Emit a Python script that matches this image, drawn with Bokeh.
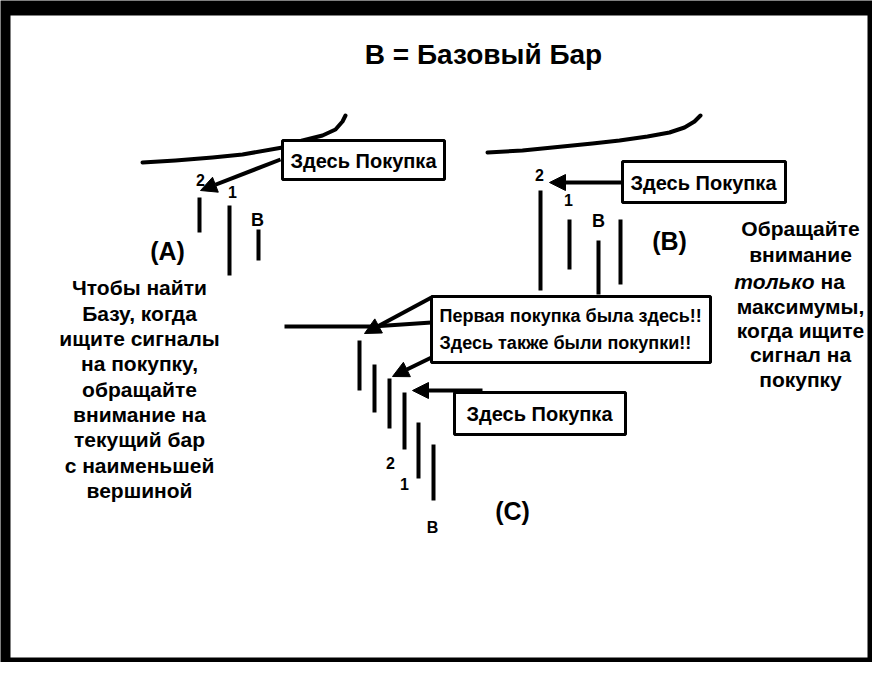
from bokeh.plotting import figure
from bokeh.models import Range1d, ColumnDataSource, Arrow, NormalHead
from bokeh.core.properties import value
from bokeh.embed import file_html
from bokeh.resources import INLINE

FONT = value("Liberation Sans")

# ---------------- data (diagram coordinates, image-pixel units) ----------------
title_text = "B = Базовый Бар"

# panel A
a_curve_x = [150, 183, 220, 250, 290, 310, 330, 343, 350, 353]
a_curve_y = [170, 168, 165, 162, 155, 148, 143, 137, 129, 123]
a_bar_x = [207, 237, 266]
a_bar_top = [205, 213, 237]
a_bar_bottom = [240, 283, 268]

# panel B
b_curve_x = [495, 530, 560, 600, 627, 655, 677, 692, 702, 708]
b_curve_y = [160, 158, 155, 151, 148, 144, 140, 135, 129, 123]
b_bar_x = [548, 577, 606, 628]
b_bar_top = [198, 227, 248, 227]
b_bar_bottom = [298, 277, 302, 292]

# panel C
c_line_x = [292, 380, 439]
c_line_y = [334, 334, 330]
c_bar_x = [367, 382, 397, 412, 426, 441]
c_bar_top = [348, 372, 386, 400, 430, 452]
c_bar_bottom = [398, 420, 436, 457, 486, 508]

# callout boxes
box_left = [290, 630, 439, 462]
box_right = [452, 793, 718, 633]
box_top = [148, 169, 304, 400]
box_bottom = [187, 210, 370, 442]

# arrows
arr_x0 = [288, 630, 439, 439, 490]
arr_y0 = [167, 190, 305, 365, 398]
arr_x1 = [208, 557, 372, 400, 420]
arr_y1 = [198, 190, 341, 384, 398]

# box texts
box_text = ["Здесь Покупка", "Здесь Покупка", "Первая покупка была здесь!!",
            "Здесь также были покупки!!", "Здесь Покупка"]
box_text_x = [371, 711, 447, 447, 547]
box_text_y = [168, 190, 323, 350, 421]
box_text_size = ["20px", "20px", "18px", "18px", "20px"]
box_text_align = ["center", "center", "left", "left", "center"]

# small labels (bar numbers / B)
lab_text = ["2", "1", "B", "2", "1", "B", "2", "1", "B"]
lab_x = [208, 240, 265, 547, 576, 606, 398, 412, 440]
lab_y = [187, 199, 227, 182, 207, 228, 470, 491, 535]
lab_size = ["16px", "16px", "18px", "16px", "16px", "18px", "16px", "16px", "16px"]

# panel names
pan_text = ["(A)", "(B)", "(C)"]
pan_x = [175, 677, 520]
pan_y = [258, 248, 518]

# left note
left_lines = ["Чтобы найти", "Базу, когда", "ищите сигналы", "на покупку,",
              "обращайте", "внимание на", "текущий бар", "с наименьшей", "вершиной"]
left_y = [295, 321, 346, 371, 397, 422, 447, 473, 498]
left_x = 147

# right note ("только" is italic, handled separately)
right_lines = ["Обращайте", "внимание", "максимумы,", "когда ищите", "сигнал на", "покупку"]
right_y = [236, 262, 314, 338, 362, 387]
right_x = 808
italic_y = 289

# ---------------- figure ----------------
W, H = 872, 662
p = figure(width=W, height=H, x_range=Range1d(8, 880), y_range=Range1d(670, 8),
           output_backend="svg", toolbar_location=None, x_axis_type=None, y_axis_type=None,
           min_border=0, background_fill_color="black", border_fill_color="black",
           outline_line_color=None)
p.grid.visible = False

# white page inside black frame
p.quad(left=[18], right=[875], top=[23], bottom=[665], fill_color="white", line_color=None)

# title
p.text(x=[491], y=[62], text=[title_text], text_font=FONT, text_font_style="bold",
       text_font_size="28px", text_align="center", text_baseline="middle", text_color="black")

# curves
p.line(a_curve_x, a_curve_y, line_width=4, line_color="black", line_cap="round", line_join="round")
p.line(b_curve_x, b_curve_y, line_width=4, line_color="black", line_cap="round", line_join="round")
p.line(c_line_x, c_line_y, line_width=4, line_color="black")

# bars
for bx, bt, bb in [(a_bar_x, a_bar_top, a_bar_bottom),
                   (b_bar_x, b_bar_top, b_bar_bottom),
                   (c_bar_x, c_bar_top, c_bar_bottom)]:
    p.segment(x0=bx, y0=bt, x1=bx, y1=bb, line_width=4, line_color="black")

# arrows
asrc = ColumnDataSource(dict(x0=arr_x0, y0=arr_y0, x1=arr_x1, y1=arr_y1))
p.add_layout(Arrow(source=asrc, x_start="x0", y_start="y0", x_end="x1", y_end="y1",
                   line_width=4, line_color="black",
                   end=NormalHead(size=16, fill_color="black", line_color="black", line_width=1)))

# boxes
p.quad(left=box_left, right=box_right, top=box_top, bottom=box_bottom,
       fill_color="white", line_color="black", line_width=3)

bsrc = ColumnDataSource(dict(x=box_text_x, y=box_text_y, t=box_text, s=box_text_size, a=box_text_align))
p.text(x="x", y="y", text="t", text_font_size="s", text_align="a", source=bsrc,
       text_font=FONT, text_font_style="bold", text_baseline="middle", text_color="black")

lsrc = ColumnDataSource(dict(x=lab_x, y=lab_y, t=lab_text, s=lab_size))
p.text(x="x", y="y", text="t", text_font_size="s", source=lsrc, text_font=FONT,
       text_font_style="bold", text_align="center", text_baseline="middle", text_color="black")

p.text(x=pan_x, y=pan_y, text=pan_text, text_font=FONT, text_font_style="bold",
       text_font_size="25px", text_align="center", text_baseline="middle", text_color="black")

p.text(x=[left_x] * len(left_lines), y=left_y, text=left_lines, text_font=FONT,
       text_font_style="bold", text_font_size="21px", text_align="center",
       text_baseline="middle", text_color="black")

p.text(x=[right_x] * len(right_lines), y=right_y, text=right_lines, text_font=FONT,
       text_font_style="bold", text_font_size="21px", text_align="center",
       text_baseline="middle", text_color="black")
p.text(x=[822], y=[italic_y], text=["только"], text_font=FONT, text_font_style="bold italic",
       text_font_size="21px", text_align="right", text_baseline="middle", text_color="black")
p.text(x=[828], y=[italic_y], text=["на"], text_font=FONT, text_font_style="bold",
       text_font_size="21px", text_align="left", text_baseline="middle", text_color="black")

open("out.html", "w").write(file_html(p, INLINE))
